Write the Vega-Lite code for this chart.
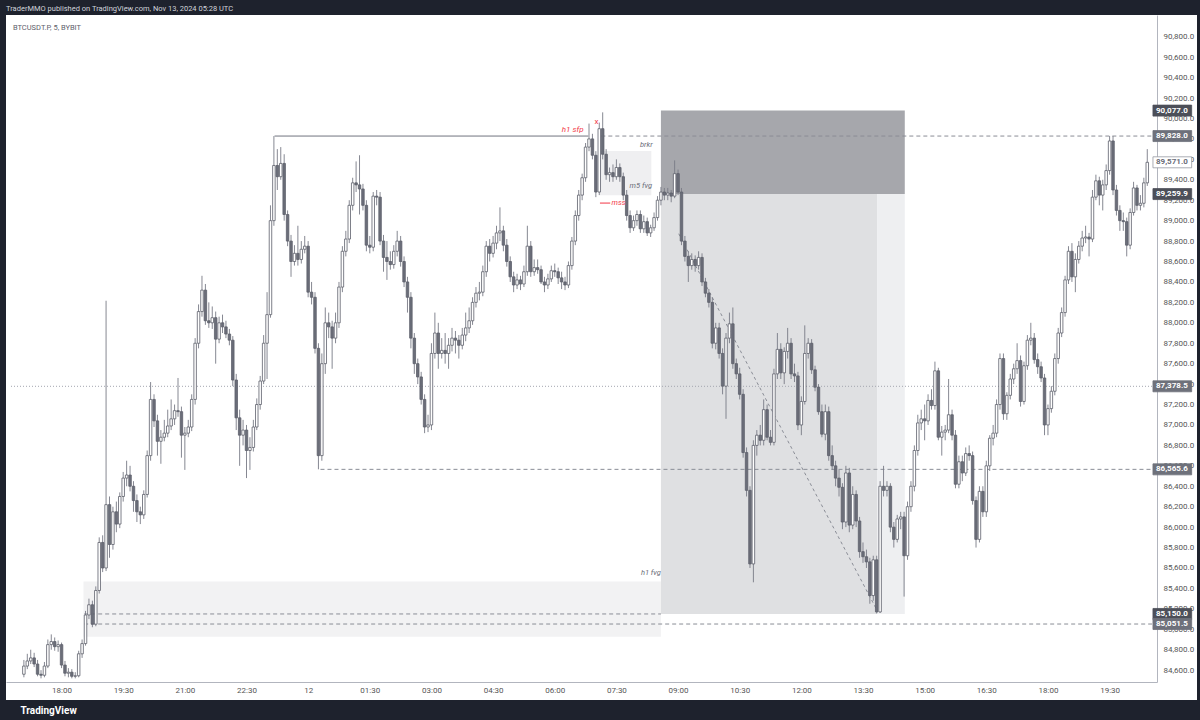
{
"$schema": "https://vega.github.io/schema/vega-lite/v6.json",
"width": 1191,
"height": 685,
"autosize": {"type": "none"},
"padding": {"left": 6, "top": 15, "right": 3, "bottom": 20},
"background": "#1e222d",
"config": {"view": {"fill": "#ffffff", "stroke": null}, "font": "Roboto", "axisY": {"labelOverlap": false}, "axisX": {"labelOverlap": false}},
"title": {"text": "TraderMMO published on TradingView.com, Nov 13, 2024 05:28 UTC", "anchor": "start", "frame": "group", "fontSize": 7.5, "fontWeight": "normal", "color": "#d1d4dc", "offset": 3},
"resolve": {"scale": {"color": "independent", "fill": "independent", "stroke": "independent", "strokeDash": "independent"}},
"datasets": {
"zones": [
{"t1": "2024-11-11T18:32Z", "t2": "2024-11-12T08:35Z", "p1": 84928, "p2": 85468, "zone": "h1fvg"},
{"t1": "2024-11-12T07:06Z", "t2": "2024-11-12T08:21Z", "p1": 89248, "p2": 89681, "zone": "m5fvg"},
{"t1": "2024-11-12T08:35Z", "t2": "2024-11-12T14:31Z", "p1": 89259.9, "p2": 90077, "zone": "stop"},
{"t1": "2024-11-12T08:35Z", "t2": "2024-11-12T13:51Z", "p1": 85150, "p2": 89259.9, "zone": "target"},
{"t1": "2024-11-12T13:51Z", "t2": "2024-11-12T14:31Z", "p1": 85150, "p2": 89259.9, "zone": "target_rest"}
],
"levels": [
{"t1": "2024-11-11T23:11Z", "t2": "2024-11-12T06:49Z", "p": 89828, "style": "solid"},
{"t1": "2024-11-12T07:08Z", "t2": "2024-11-12T20:31:54Z", "p": 89828, "style": "dashed"},
{"t1": "2024-11-11T16:46:12Z", "t2": "2024-11-12T20:31:54Z", "p": 87378.5, "style": "dotted"},
{"t1": "2024-11-12T00:18Z", "t2": "2024-11-12T20:31:54Z", "p": 86565.6, "style": "dashed"},
{"t1": "2024-11-11T18:33Z", "t2": "2024-11-12T08:35Z", "p": 85150, "style": "dashed"},
{"t1": "2024-11-11T18:33Z", "t2": "2024-11-12T20:31:54Z", "p": 85051.5, "style": "dashed"}
],
"diag": [
{"t": "2024-11-12T09:01Z", "p": 88872},
{"t": "2024-11-12T13:51Z", "p": 85179}
],
"tags": [
{"p": 90077.0, "kind": "position"},
{"p": 89828.0, "kind": "level"},
{"p": 89571.0, "kind": "last"},
{"p": 89259.9, "kind": "position"},
{"p": 87378.5, "kind": "level"},
{"p": 86565.6, "kind": "level"},
{"p": 85150.0, "kind": "position"},
{"p": 85051.5, "kind": "level"}
],
"candles": [
{"t":"2024-11-11T17:05Z","o":84560,"h":84700,"l":84530,"c":84640},
{"t":"2024-11-11T17:10Z","o":84640,"h":84760,"l":84610,"c":84690},
{"t":"2024-11-11T17:15Z","o":84690,"h":84800,"l":84660,"c":84720},
{"t":"2024-11-11T17:20Z","o":84720,"h":84770,"l":84630,"c":84660},
{"t":"2024-11-11T17:25Z","o":84660,"h":84700,"l":84540,"c":84560},
{"t":"2024-11-11T17:30Z","o":84560,"h":84600,"l":84520,"c":84550},
{"t":"2024-11-11T17:35Z","o":84550,"h":84680,"l":84530,"c":84640},
{"t":"2024-11-11T17:40Z","o":84640,"h":84900,"l":84620,"c":84850},
{"t":"2024-11-11T17:45Z","o":84850,"h":84950,"l":84800,"c":84880},
{"t":"2024-11-11T17:50Z","o":84880,"h":84920,"l":84790,"c":84830},
{"t":"2024-11-11T17:55Z","o":84830,"h":84890,"l":84780,"c":84850},
{"t":"2024-11-11T18:00Z","o":84850,"h":84870,"l":84620,"c":84650},
{"t":"2024-11-11T18:05Z","o":84650,"h":84690,"l":84540,"c":84570},
{"t":"2024-11-11T18:10Z","o":84570,"h":84620,"l":84530,"c":84580},
{"t":"2024-11-11T18:15Z","o":84580,"h":84610,"l":84520,"c":84540},
{"t":"2024-11-11T18:20Z","o":84540,"h":84580,"l":84520,"c":84545},
{"t":"2024-11-11T18:25Z","o":84545,"h":84790,"l":84530,"c":84760},
{"t":"2024-11-11T18:30Z","o":84760,"h":84900,"l":84720,"c":84860},
{"t":"2024-11-11T18:35Z","o":84860,"h":85180,"l":84840,"c":85140},
{"t":"2024-11-11T18:40Z","o":85140,"h":85300,"l":85100,"c":85240},
{"t":"2024-11-11T18:45Z","o":85240,"h":85280,"l":85020,"c":85050},
{"t":"2024-11-11T18:50Z","o":85050,"h":85420,"l":85030,"c":85380},
{"t":"2024-11-11T18:55Z","o":85380,"h":85900,"l":85350,"c":85850},
{"t":"2024-11-11T19:00Z","o":85850,"h":85920,"l":85560,"c":85600},
{"t":"2024-11-11T19:05Z","o":85600,"h":88216,"l":85570,"c":86220},
{"t":"2024-11-11T19:10Z","o":86220,"h":86300,"l":85700,"c":85830},
{"t":"2024-11-11T19:15Z","o":85830,"h":86200,"l":85780,"c":86150},
{"t":"2024-11-11T19:20Z","o":86150,"h":86250,"l":85950,"c":86030},
{"t":"2024-11-11T19:25Z","o":86030,"h":86340,"l":85990,"c":86300},
{"t":"2024-11-11T19:30Z","o":86300,"h":86540,"l":86250,"c":86480},
{"t":"2024-11-11T19:35Z","o":86480,"h":86650,"l":86400,"c":86510},
{"t":"2024-11-11T19:40Z","o":86510,"h":86600,"l":86350,"c":86400},
{"t":"2024-11-11T19:45Z","o":86400,"h":86450,"l":86150,"c":86260},
{"t":"2024-11-11T19:50Z","o":86260,"h":86320,"l":86050,"c":86150},
{"t":"2024-11-11T19:55Z","o":86150,"h":86200,"l":86030,"c":86120},
{"t":"2024-11-11T20:00Z","o":86120,"h":86360,"l":86080,"c":86320},
{"t":"2024-11-11T20:05Z","o":86320,"h":86750,"l":86290,"c":86700},
{"t":"2024-11-11T20:10Z","o":86700,"h":87420,"l":86650,"c":87250},
{"t":"2024-11-11T20:15Z","o":87250,"h":87300,"l":86980,"c":87040},
{"t":"2024-11-11T20:20Z","o":87040,"h":87100,"l":86700,"c":86840},
{"t":"2024-11-11T20:25Z","o":86840,"h":86950,"l":86620,"c":86880},
{"t":"2024-11-11T20:30Z","o":86880,"h":87050,"l":86840,"c":86920},
{"t":"2024-11-11T20:35Z","o":86920,"h":87150,"l":86880,"c":86990},
{"t":"2024-11-11T20:40Z","o":86990,"h":87250,"l":86950,"c":87060},
{"t":"2024-11-11T20:45Z","o":87060,"h":87200,"l":87000,"c":87140},
{"t":"2024-11-11T20:50Z","o":87140,"h":87460,"l":87080,"c":87130},
{"t":"2024-11-11T20:55Z","o":87130,"h":87180,"l":86680,"c":86900},
{"t":"2024-11-11T21:00Z","o":86900,"h":86980,"l":86560,"c":86920},
{"t":"2024-11-11T21:05Z","o":86920,"h":87050,"l":86880,"c":86980},
{"t":"2024-11-11T21:10Z","o":86980,"h":87300,"l":86940,"c":87250},
{"t":"2024-11-11T21:15Z","o":87250,"h":87850,"l":87200,"c":87800},
{"t":"2024-11-11T21:20Z","o":87800,"h":88180,"l":87750,"c":88110},
{"t":"2024-11-11T21:25Z","o":88110,"h":88460,"l":88060,"c":88320},
{"t":"2024-11-11T21:30Z","o":88320,"h":88380,"l":87980,"c":88020},
{"t":"2024-11-11T21:35Z","o":88020,"h":88200,"l":87950,"c":88000},
{"t":"2024-11-11T21:40Z","o":88000,"h":88160,"l":87940,"c":88050},
{"t":"2024-11-11T21:45Z","o":88050,"h":88110,"l":87600,"c":87840},
{"t":"2024-11-11T21:50Z","o":87840,"h":88060,"l":87800,"c":88000},
{"t":"2024-11-11T21:55Z","o":88000,"h":88080,"l":87900,"c":87960},
{"t":"2024-11-11T22:00Z","o":87960,"h":88020,"l":87850,"c":87890},
{"t":"2024-11-11T22:05Z","o":87890,"h":87940,"l":87780,"c":87830},
{"t":"2024-11-11T22:10Z","o":87830,"h":87870,"l":87380,"c":87440},
{"t":"2024-11-11T22:15Z","o":87440,"h":87500,"l":86950,"c":87070},
{"t":"2024-11-11T22:20Z","o":87070,"h":87150,"l":86600,"c":86900},
{"t":"2024-11-11T22:25Z","o":86900,"h":87050,"l":86800,"c":86950},
{"t":"2024-11-11T22:30Z","o":86950,"h":87000,"l":86480,"c":86750},
{"t":"2024-11-11T22:35Z","o":86750,"h":86880,"l":86560,"c":86780},
{"t":"2024-11-11T22:40Z","o":86780,"h":87050,"l":86740,"c":86980},
{"t":"2024-11-11T22:45Z","o":86980,"h":87260,"l":86950,"c":87200},
{"t":"2024-11-11T22:50Z","o":87200,"h":87480,"l":87150,"c":87430},
{"t":"2024-11-11T22:55Z","o":87430,"h":87880,"l":87400,"c":87800},
{"t":"2024-11-11T23:00Z","o":87800,"h":88300,"l":87450,"c":88080},
{"t":"2024-11-11T23:05Z","o":88080,"h":89150,"l":88050,"c":89000},
{"t":"2024-11-11T23:10Z","o":89000,"h":89828,"l":88950,"c":89540},
{"t":"2024-11-11T23:15Z","o":89540,"h":89700,"l":89300,"c":89430},
{"t":"2024-11-11T23:20Z","o":89430,"h":89720,"l":89400,"c":89560},
{"t":"2024-11-11T23:25Z","o":89560,"h":89650,"l":89000,"c":89060},
{"t":"2024-11-11T23:30Z","o":89060,"h":89100,"l":88750,"c":88800},
{"t":"2024-11-11T23:35Z","o":88800,"h":88860,"l":88450,"c":88600},
{"t":"2024-11-11T23:40Z","o":88600,"h":88760,"l":88560,"c":88680},
{"t":"2024-11-11T23:45Z","o":88680,"h":88950,"l":88560,"c":88620},
{"t":"2024-11-11T23:50Z","o":88620,"h":88800,"l":88580,"c":88720},
{"t":"2024-11-11T23:55Z","o":88720,"h":88850,"l":88680,"c":88750},
{"t":"2024-11-12T00:00Z","o":88750,"h":88800,"l":88250,"c":88300},
{"t":"2024-11-12T00:05Z","o":88300,"h":88400,"l":88180,"c":88250},
{"t":"2024-11-12T00:10Z","o":88250,"h":88300,"l":87700,"c":87750},
{"t":"2024-11-12T00:15Z","o":87750,"h":87800,"l":86566,"c":86700},
{"t":"2024-11-12T00:20Z","o":86700,"h":87700,"l":86650,"c":87600},
{"t":"2024-11-12T00:25Z","o":87600,"h":88150,"l":87500,"c":88000},
{"t":"2024-11-12T00:30Z","o":88000,"h":88100,"l":87850,"c":87960},
{"t":"2024-11-12T00:35Z","o":87960,"h":88020,"l":87550,"c":87850},
{"t":"2024-11-12T00:40Z","o":87850,"h":88100,"l":87800,"c":88000},
{"t":"2024-11-12T00:45Z","o":88000,"h":88400,"l":87950,"c":88350},
{"t":"2024-11-12T00:50Z","o":88350,"h":88750,"l":88300,"c":88700},
{"t":"2024-11-12T00:55Z","o":88700,"h":88900,"l":88650,"c":88820},
{"t":"2024-11-12T01:00Z","o":88820,"h":89200,"l":88780,"c":89150},
{"t":"2024-11-12T01:05Z","o":89150,"h":89420,"l":89100,"c":89370},
{"t":"2024-11-12T01:10Z","o":89370,"h":89580,"l":89280,"c":89350},
{"t":"2024-11-12T01:15Z","o":89350,"h":89640,"l":89060,"c":89310},
{"t":"2024-11-12T01:20Z","o":89310,"h":89360,"l":89100,"c":89150},
{"t":"2024-11-12T01:25Z","o":89150,"h":89200,"l":88700,"c":88760},
{"t":"2024-11-12T01:30Z","o":88760,"h":88850,"l":88680,"c":88740},
{"t":"2024-11-12T01:35Z","o":88740,"h":89280,"l":88700,"c":89240},
{"t":"2024-11-12T01:40Z","o":89240,"h":89300,"l":89150,"c":89230},
{"t":"2024-11-12T01:45Z","o":89230,"h":89280,"l":88760,"c":88800},
{"t":"2024-11-12T01:50Z","o":88800,"h":88860,"l":88500,"c":88640},
{"t":"2024-11-12T01:55Z","o":88640,"h":88800,"l":88420,"c":88600},
{"t":"2024-11-12T02:00Z","o":88600,"h":88700,"l":88520,"c":88570},
{"t":"2024-11-12T02:05Z","o":88570,"h":88760,"l":88530,"c":88700},
{"t":"2024-11-12T02:10Z","o":88700,"h":88900,"l":88650,"c":88800},
{"t":"2024-11-12T02:15Z","o":88800,"h":88850,"l":88550,"c":88600},
{"t":"2024-11-12T02:20Z","o":88600,"h":88650,"l":88350,"c":88400},
{"t":"2024-11-12T02:25Z","o":88400,"h":88450,"l":88100,"c":88250},
{"t":"2024-11-12T02:30Z","o":88250,"h":88300,"l":87750,"c":87850},
{"t":"2024-11-12T02:35Z","o":87850,"h":87900,"l":87500,"c":87600},
{"t":"2024-11-12T02:40Z","o":87600,"h":87650,"l":87400,"c":87470},
{"t":"2024-11-12T02:45Z","o":87470,"h":87520,"l":87200,"c":87250},
{"t":"2024-11-12T02:50Z","o":87250,"h":87300,"l":86920,"c":86980},
{"t":"2024-11-12T02:55Z","o":86980,"h":87100,"l":86930,"c":87000},
{"t":"2024-11-12T03:00Z","o":87000,"h":87800,"l":86950,"c":87700},
{"t":"2024-11-12T03:05Z","o":87700,"h":88100,"l":87650,"c":87900},
{"t":"2024-11-12T03:10Z","o":87900,"h":88000,"l":87550,"c":87700},
{"t":"2024-11-12T03:15Z","o":87700,"h":87850,"l":87650,"c":87730},
{"t":"2024-11-12T03:20Z","o":87730,"h":87900,"l":87600,"c":87700},
{"t":"2024-11-12T03:25Z","o":87700,"h":87850,"l":87550,"c":87780},
{"t":"2024-11-12T03:30Z","o":87780,"h":87950,"l":87720,"c":87850},
{"t":"2024-11-12T03:35Z","o":87850,"h":87920,"l":87700,"c":87830},
{"t":"2024-11-12T03:40Z","o":87830,"h":87880,"l":87650,"c":87780},
{"t":"2024-11-12T03:45Z","o":87780,"h":87950,"l":87740,"c":87880},
{"t":"2024-11-12T03:50Z","o":87880,"h":88100,"l":87820,"c":87950},
{"t":"2024-11-12T03:55Z","o":87950,"h":88150,"l":87900,"c":88020},
{"t":"2024-11-12T04:00Z","o":88020,"h":88250,"l":87980,"c":88200},
{"t":"2024-11-12T04:05Z","o":88200,"h":88350,"l":88150,"c":88290},
{"t":"2024-11-12T04:10Z","o":88290,"h":88400,"l":88220,"c":88300},
{"t":"2024-11-12T04:15Z","o":88300,"h":88560,"l":88260,"c":88500},
{"t":"2024-11-12T04:20Z","o":88500,"h":88800,"l":88450,"c":88750},
{"t":"2024-11-12T04:25Z","o":88750,"h":88820,"l":88600,"c":88680},
{"t":"2024-11-12T04:30Z","o":88680,"h":88850,"l":88640,"c":88780},
{"t":"2024-11-12T04:35Z","o":88780,"h":88950,"l":88720,"c":88880},
{"t":"2024-11-12T04:40Z","o":88880,"h":89130,"l":88800,"c":88900},
{"t":"2024-11-12T04:45Z","o":88900,"h":88950,"l":88700,"c":88760},
{"t":"2024-11-12T04:50Z","o":88760,"h":88820,"l":88550,"c":88600},
{"t":"2024-11-12T04:55Z","o":88600,"h":88650,"l":88400,"c":88450},
{"t":"2024-11-12T05:00Z","o":88450,"h":88500,"l":88300,"c":88370},
{"t":"2024-11-12T05:05Z","o":88370,"h":88480,"l":88330,"c":88420},
{"t":"2024-11-12T05:10Z","o":88420,"h":88460,"l":88320,"c":88380},
{"t":"2024-11-12T05:15Z","o":88380,"h":88560,"l":88350,"c":88500},
{"t":"2024-11-12T05:20Z","o":88500,"h":88950,"l":88460,"c":88750},
{"t":"2024-11-12T05:25Z","o":88750,"h":88800,"l":88450,"c":88500},
{"t":"2024-11-12T05:30Z","o":88500,"h":88620,"l":88460,"c":88540},
{"t":"2024-11-12T05:35Z","o":88540,"h":88620,"l":88480,"c":88520},
{"t":"2024-11-12T05:40Z","o":88520,"h":88560,"l":88380,"c":88400},
{"t":"2024-11-12T05:45Z","o":88400,"h":88450,"l":88300,"c":88370},
{"t":"2024-11-12T05:50Z","o":88370,"h":88480,"l":88330,"c":88430},
{"t":"2024-11-12T05:55Z","o":88430,"h":88560,"l":88400,"c":88510},
{"t":"2024-11-12T06:00Z","o":88510,"h":88580,"l":88450,"c":88500},
{"t":"2024-11-12T06:05Z","o":88500,"h":88540,"l":88380,"c":88440},
{"t":"2024-11-12T06:10Z","o":88440,"h":88500,"l":88330,"c":88400},
{"t":"2024-11-12T06:15Z","o":88400,"h":88450,"l":88320,"c":88370},
{"t":"2024-11-12T06:20Z","o":88370,"h":88600,"l":88340,"c":88560},
{"t":"2024-11-12T06:25Z","o":88560,"h":88840,"l":88520,"c":88800},
{"t":"2024-11-12T06:30Z","o":88800,"h":89100,"l":88760,"c":89050},
{"t":"2024-11-12T06:35Z","o":89050,"h":89300,"l":89000,"c":89250},
{"t":"2024-11-12T06:40Z","o":89250,"h":89460,"l":89200,"c":89420},
{"t":"2024-11-12T06:45Z","o":89420,"h":89760,"l":89380,"c":89720},
{"t":"2024-11-12T06:50Z","o":89720,"h":89950,"l":89680,"c":89800},
{"t":"2024-11-12T06:55Z","o":89800,"h":89850,"l":89600,"c":89640},
{"t":"2024-11-12T07:00Z","o":89640,"h":89680,"l":89230,"c":89280},
{"t":"2024-11-12T07:05Z","o":89280,"h":89960,"l":89250,"c":89900},
{"t":"2024-11-12T07:10Z","o":89900,"h":90060,"l":89600,"c":89650},
{"t":"2024-11-12T07:15Z","o":89650,"h":89700,"l":89400,"c":89450},
{"t":"2024-11-12T07:20Z","o":89450,"h":89520,"l":89380,"c":89470},
{"t":"2024-11-12T07:25Z","o":89470,"h":89550,"l":89380,"c":89430},
{"t":"2024-11-12T07:30Z","o":89430,"h":89600,"l":89400,"c":89520},
{"t":"2024-11-12T07:35Z","o":89520,"h":89560,"l":89380,"c":89430},
{"t":"2024-11-12T07:40Z","o":89430,"h":89470,"l":89200,"c":89250},
{"t":"2024-11-12T07:45Z","o":89250,"h":89300,"l":89000,"c":89050},
{"t":"2024-11-12T07:50Z","o":89050,"h":89100,"l":88880,"c":88930},
{"t":"2024-11-12T07:55Z","o":88930,"h":89050,"l":88900,"c":89000},
{"t":"2024-11-12T08:00Z","o":89000,"h":89100,"l":88950,"c":89060},
{"t":"2024-11-12T08:05Z","o":89060,"h":89100,"l":88880,"c":88920},
{"t":"2024-11-12T08:10Z","o":88920,"h":89050,"l":88880,"c":88990},
{"t":"2024-11-12T08:15Z","o":88990,"h":89030,"l":88850,"c":88880},
{"t":"2024-11-12T08:20Z","o":88880,"h":88960,"l":88840,"c":88930},
{"t":"2024-11-12T08:25Z","o":88930,"h":89080,"l":88900,"c":89030},
{"t":"2024-11-12T08:30Z","o":89030,"h":89240,"l":89000,"c":89200},
{"t":"2024-11-12T08:35Z","o":89200,"h":89330,"l":89150,"c":89280},
{"t":"2024-11-12T08:40Z","o":89280,"h":89320,"l":89200,"c":89250},
{"t":"2024-11-12T08:45Z","o":89250,"h":89320,"l":89200,"c":89270},
{"t":"2024-11-12T08:50Z","o":89270,"h":89300,"l":89180,"c":89240},
{"t":"2024-11-12T08:55Z","o":89240,"h":89590,"l":89220,"c":89460},
{"t":"2024-11-12T09:00Z","o":89460,"h":89500,"l":89250,"c":89280},
{"t":"2024-11-12T09:05Z","o":89280,"h":89320,"l":88760,"c":88800},
{"t":"2024-11-12T09:10Z","o":88800,"h":88850,"l":88600,"c":88650},
{"t":"2024-11-12T09:15Z","o":88650,"h":88700,"l":88400,"c":88560},
{"t":"2024-11-12T09:20Z","o":88560,"h":88680,"l":88520,"c":88620},
{"t":"2024-11-12T09:25Z","o":88620,"h":88660,"l":88500,"c":88560},
{"t":"2024-11-12T09:30Z","o":88560,"h":88700,"l":88520,"c":88640},
{"t":"2024-11-12T09:35Z","o":88640,"h":88680,"l":88360,"c":88400},
{"t":"2024-11-12T09:40Z","o":88400,"h":88440,"l":88250,"c":88290},
{"t":"2024-11-12T09:45Z","o":88290,"h":88330,"l":88150,"c":88200},
{"t":"2024-11-12T09:50Z","o":88200,"h":88250,"l":87750,"c":87800},
{"t":"2024-11-12T09:55Z","o":87800,"h":88000,"l":87740,"c":87950},
{"t":"2024-11-12T10:00Z","o":87950,"h":88000,"l":87650,"c":87700},
{"t":"2024-11-12T10:05Z","o":87700,"h":87750,"l":87300,"c":87380},
{"t":"2024-11-12T10:10Z","o":87380,"h":87900,"l":87060,"c":87850},
{"t":"2024-11-12T10:15Z","o":87850,"h":88100,"l":87800,"c":87990},
{"t":"2024-11-12T10:20Z","o":87990,"h":88150,"l":87550,"c":87600},
{"t":"2024-11-12T10:25Z","o":87600,"h":87650,"l":87450,"c":87500},
{"t":"2024-11-12T10:30Z","o":87500,"h":87560,"l":87250,"c":87300},
{"t":"2024-11-12T10:35Z","o":87300,"h":87350,"l":86680,"c":86730},
{"t":"2024-11-12T10:40Z","o":86730,"h":86780,"l":86300,"c":86360},
{"t":"2024-11-12T10:45Z","o":86360,"h":86400,"l":85600,"c":85640},
{"t":"2024-11-12T10:50Z","o":85640,"h":86850,"l":85460,"c":86800},
{"t":"2024-11-12T10:55Z","o":86800,"h":86950,"l":86700,"c":86900},
{"t":"2024-11-12T11:00Z","o":86900,"h":87000,"l":86800,"c":86850},
{"t":"2024-11-12T11:05Z","o":86850,"h":87250,"l":86800,"c":87150},
{"t":"2024-11-12T11:10Z","o":87150,"h":87200,"l":86850,"c":86880},
{"t":"2024-11-12T11:15Z","o":86880,"h":86950,"l":86800,"c":86830},
{"t":"2024-11-12T11:20Z","o":86830,"h":87550,"l":86800,"c":87500},
{"t":"2024-11-12T11:25Z","o":87500,"h":87900,"l":87450,"c":87740},
{"t":"2024-11-12T11:30Z","o":87740,"h":87800,"l":87450,"c":87510},
{"t":"2024-11-12T11:35Z","o":87510,"h":87760,"l":87400,"c":87720},
{"t":"2024-11-12T11:40Z","o":87720,"h":87950,"l":87650,"c":87800},
{"t":"2024-11-12T11:45Z","o":87800,"h":87850,"l":87450,"c":87500},
{"t":"2024-11-12T11:50Z","o":87500,"h":87600,"l":87420,"c":87480},
{"t":"2024-11-12T11:55Z","o":87480,"h":87520,"l":86950,"c":87000},
{"t":"2024-11-12T12:00Z","o":87000,"h":87280,"l":86900,"c":87230},
{"t":"2024-11-12T12:05Z","o":87230,"h":87975,"l":87200,"c":87700},
{"t":"2024-11-12T12:10Z","o":87700,"h":87850,"l":87650,"c":87800},
{"t":"2024-11-12T12:15Z","o":87800,"h":87840,"l":87500,"c":87540},
{"t":"2024-11-12T12:20Z","o":87540,"h":87580,"l":87330,"c":87370},
{"t":"2024-11-12T12:25Z","o":87370,"h":87400,"l":87100,"c":87130},
{"t":"2024-11-12T12:30Z","o":87130,"h":87200,"l":86880,"c":86910},
{"t":"2024-11-12T12:35Z","o":86910,"h":87200,"l":86850,"c":87130},
{"t":"2024-11-12T12:40Z","o":87130,"h":87180,"l":86650,"c":86700},
{"t":"2024-11-12T12:45Z","o":86700,"h":86800,"l":86560,"c":86600},
{"t":"2024-11-12T12:50Z","o":86600,"h":86650,"l":86400,"c":86480},
{"t":"2024-11-12T12:55Z","o":86480,"h":86560,"l":86300,"c":86390},
{"t":"2024-11-12T13:00Z","o":86390,"h":86430,"l":85980,"c":86050},
{"t":"2024-11-12T13:05Z","o":86050,"h":86600,"l":86000,"c":86530},
{"t":"2024-11-12T13:10Z","o":86530,"h":86580,"l":85950,"c":86020},
{"t":"2024-11-12T13:15Z","o":86020,"h":86400,"l":85980,"c":86320},
{"t":"2024-11-12T13:20Z","o":86320,"h":86360,"l":86000,"c":86060},
{"t":"2024-11-12T13:25Z","o":86060,"h":86100,"l":85700,"c":85760},
{"t":"2024-11-12T13:30Z","o":85760,"h":85850,"l":85650,"c":85710},
{"t":"2024-11-12T13:35Z","o":85710,"h":85780,"l":85600,"c":85660},
{"t":"2024-11-12T13:40Z","o":85660,"h":85700,"l":85250,"c":85330},
{"t":"2024-11-12T13:45Z","o":85330,"h":85720,"l":85280,"c":85680},
{"t":"2024-11-12T13:50Z","o":85680,"h":85720,"l":85155,"c":85170},
{"t":"2024-11-12T13:55Z","o":85170,"h":86450,"l":85160,"c":86400},
{"t":"2024-11-12T14:00Z","o":86400,"h":86600,"l":86300,"c":86360},
{"t":"2024-11-12T14:05Z","o":86360,"h":86450,"l":86300,"c":86400},
{"t":"2024-11-12T14:10Z","o":86400,"h":86430,"l":85950,"c":86000},
{"t":"2024-11-12T14:15Z","o":86000,"h":86050,"l":85800,"c":85880},
{"t":"2024-11-12T14:20Z","o":85880,"h":86120,"l":85850,"c":86080},
{"t":"2024-11-12T14:25Z","o":86080,"h":86150,"l":85980,"c":86100},
{"t":"2024-11-12T14:30Z","o":86100,"h":86150,"l":85320,"c":85720},
{"t":"2024-11-12T14:35Z","o":85720,"h":86250,"l":85680,"c":86200},
{"t":"2024-11-12T14:40Z","o":86200,"h":86450,"l":86150,"c":86400},
{"t":"2024-11-12T14:45Z","o":86400,"h":86800,"l":86350,"c":86750},
{"t":"2024-11-12T14:50Z","o":86750,"h":87100,"l":86700,"c":87020},
{"t":"2024-11-12T14:55Z","o":87020,"h":87150,"l":86950,"c":87060},
{"t":"2024-11-12T15:00Z","o":87060,"h":87200,"l":86850,"c":87040},
{"t":"2024-11-12T15:05Z","o":87040,"h":87300,"l":87000,"c":87240},
{"t":"2024-11-12T15:10Z","o":87240,"h":87350,"l":87150,"c":87190},
{"t":"2024-11-12T15:15Z","o":87190,"h":87620,"l":87150,"c":87530},
{"t":"2024-11-12T15:20Z","o":87530,"h":87560,"l":86850,"c":86880},
{"t":"2024-11-12T15:25Z","o":86880,"h":86990,"l":86700,"c":86930},
{"t":"2024-11-12T15:30Z","o":86930,"h":87000,"l":86850,"c":86950},
{"t":"2024-11-12T15:35Z","o":86950,"h":87450,"l":86920,"c":87100},
{"t":"2024-11-12T15:40Z","o":87100,"h":87150,"l":86850,"c":86900},
{"t":"2024-11-12T15:45Z","o":86900,"h":86950,"l":86380,"c":86420},
{"t":"2024-11-12T15:50Z","o":86420,"h":86700,"l":86380,"c":86640},
{"t":"2024-11-12T15:55Z","o":86640,"h":86700,"l":86450,"c":86530},
{"t":"2024-11-12T16:00Z","o":86530,"h":86780,"l":86500,"c":86720},
{"t":"2024-11-12T16:05Z","o":86720,"h":86800,"l":86650,"c":86700},
{"t":"2024-11-12T16:10Z","o":86700,"h":86740,"l":86220,"c":86260},
{"t":"2024-11-12T16:15Z","o":86260,"h":86300,"l":85800,"c":85880},
{"t":"2024-11-12T16:20Z","o":85880,"h":86400,"l":85850,"c":86350},
{"t":"2024-11-12T16:25Z","o":86350,"h":86400,"l":86100,"c":86150},
{"t":"2024-11-12T16:30Z","o":86150,"h":86650,"l":86100,"c":86600},
{"t":"2024-11-12T16:35Z","o":86600,"h":86900,"l":86550,"c":86870},
{"t":"2024-11-12T16:40Z","o":86870,"h":87000,"l":86800,"c":86920},
{"t":"2024-11-12T16:45Z","o":86920,"h":87250,"l":86880,"c":87200},
{"t":"2024-11-12T16:50Z","o":87200,"h":87700,"l":87150,"c":87650},
{"t":"2024-11-12T16:55Z","o":87650,"h":87700,"l":87050,"c":87110},
{"t":"2024-11-12T17:00Z","o":87110,"h":87320,"l":87050,"c":87290},
{"t":"2024-11-12T17:05Z","o":87290,"h":87500,"l":87250,"c":87450},
{"t":"2024-11-12T17:10Z","o":87450,"h":87600,"l":87400,"c":87550},
{"t":"2024-11-12T17:15Z","o":87550,"h":87800,"l":87500,"c":87630},
{"t":"2024-11-12T17:20Z","o":87630,"h":87680,"l":87180,"c":87230},
{"t":"2024-11-12T17:25Z","o":87230,"h":87620,"l":87200,"c":87580},
{"t":"2024-11-12T17:30Z","o":87580,"h":87880,"l":87540,"c":87830},
{"t":"2024-11-12T17:35Z","o":87830,"h":88000,"l":87780,"c":87850},
{"t":"2024-11-12T17:40Z","o":87850,"h":87900,"l":87600,"c":87640},
{"t":"2024-11-12T17:45Z","o":87640,"h":87700,"l":87500,"c":87570},
{"t":"2024-11-12T17:50Z","o":87570,"h":87620,"l":87420,"c":87460},
{"t":"2024-11-12T17:55Z","o":87460,"h":87500,"l":86900,"c":87000},
{"t":"2024-11-12T18:00Z","o":87000,"h":87200,"l":86900,"c":87160},
{"t":"2024-11-12T18:05Z","o":87160,"h":87380,"l":87120,"c":87330},
{"t":"2024-11-12T18:10Z","o":87330,"h":87700,"l":87290,"c":87650},
{"t":"2024-11-12T18:15Z","o":87650,"h":87950,"l":87600,"c":87900},
{"t":"2024-11-12T18:20Z","o":87900,"h":88150,"l":87860,"c":88100},
{"t":"2024-11-12T18:25Z","o":88100,"h":88460,"l":88060,"c":88420},
{"t":"2024-11-12T18:30Z","o":88420,"h":88750,"l":88380,"c":88700},
{"t":"2024-11-12T18:35Z","o":88700,"h":88780,"l":88400,"c":88450},
{"t":"2024-11-12T18:40Z","o":88450,"h":88680,"l":88300,"c":88620},
{"t":"2024-11-12T18:45Z","o":88620,"h":88800,"l":88580,"c":88750},
{"t":"2024-11-12T18:50Z","o":88750,"h":88900,"l":88700,"c":88830},
{"t":"2024-11-12T18:55Z","o":88830,"h":88950,"l":88780,"c":88840},
{"t":"2024-11-12T19:00Z","o":88840,"h":88880,"l":88650,"c":88820},
{"t":"2024-11-12T19:05Z","o":88820,"h":89300,"l":88790,"c":89230},
{"t":"2024-11-12T19:10Z","o":89230,"h":89450,"l":89200,"c":89390},
{"t":"2024-11-12T19:15Z","o":89390,"h":89430,"l":89150,"c":89250},
{"t":"2024-11-12T19:20Z","o":89250,"h":89400,"l":89100,"c":89350},
{"t":"2024-11-12T19:25Z","o":89350,"h":89550,"l":89300,"c":89490},
{"t":"2024-11-12T19:30Z","o":89490,"h":89828,"l":89450,"c":89780},
{"t":"2024-11-12T19:35Z","o":89780,"h":89828,"l":89250,"c":89300},
{"t":"2024-11-12T19:40Z","o":89300,"h":89350,"l":89050,"c":89100},
{"t":"2024-11-12T19:45Z","o":89100,"h":89150,"l":88900,"c":89000},
{"t":"2024-11-12T19:50Z","o":89000,"h":89080,"l":88900,"c":88990},
{"t":"2024-11-12T19:55Z","o":88990,"h":89030,"l":88650,"c":88760},
{"t":"2024-11-12T20:00Z","o":88760,"h":89120,"l":88720,"c":89080},
{"t":"2024-11-12T20:05Z","o":89080,"h":89380,"l":89050,"c":89320},
{"t":"2024-11-12T20:10Z","o":89320,"h":89350,"l":89100,"c":89150},
{"t":"2024-11-12T20:15Z","o":89150,"h":89250,"l":89100,"c":89170},
{"t":"2024-11-12T20:20Z","o":89170,"h":89420,"l":89130,"c":89370},
{"t":"2024-11-12T20:25Z","o":89370,"h":89700,"l":89340,"c":89571}
]
},
"layer": [
{
"data": {"name": "zones"},
"mark": {"type": "rect"},
"encoding": {
"x": {"field": "t1", "type": "temporal",
 "scale": {"type": "utc", "domain": [1731343572000, 1731443514000], "range": [0, 1151], "nice": false},
 "axis": {"orient": "bottom", "offset": -18, "tickCount": 60, "values": [1731348000000,1731353400000,1731358800000,1731364200000,1731369600000,1731375000000,1731380400000,1731385800000,1731391200000,1731396600000,1731402000000,1731407400000,1731412800000,1731418200000,1731423600000,1731429000000,1731434400000,1731439800000],
  "labelExpr": "utchours(datum.value) == 0 && utcminutes(datum.value) == 0 ? utcFormat(datum.value, '%d') : utcFormat(datum.value, '%H:%M')",
  "ticks": false, "grid": false, "domain": true, "domainColor": "#b2b5be", "labelPadding": 4, "labelFontSize": 8, "labelColor": "#555555", "labelOverlap": false, "labelFlush": false,
  "title": "TradingView", "titleX": 14, "titleY": 28, "titleAlign": "left", "titleAnchor": "start", "titleBaseline": "middle", "titleColor": "#ffffff", "titleFontSize": 10, "titleFontWeight": "bold"}},
"x2": {"field": "t2"},
"y": {"field": "p1", "type": "quantitative",
 "scale": {"domain": [84533, 90964], "range": [667, 0], "nice": false, "zero": false},
 "axis": {"orient": "right", "offset": -40, "tickCount": 100, "values": [84600,84800,85000,85200,85400,85600,85800,86000,86200,86400,86600,86800,87000,87200,87400,87600,87800,88000,88200,88400,88600,88800,89000,89200,89400,89600,89800,90000,90200,90400,90600,90800],
  "format": ",.1f", "ticks": false, "grid": false, "domain": true, "domainColor": "#b2b5be", "labelPadding": 6, "labelFontSize": 8, "labelColor": "#555555", "labelOverlap": false, "labelFlush": false, "labelBound": false, "title": null}},
"y2": {"field": "p2"},
"color": {"field": "zone", "type": "nominal", "legend": null,
 "scale": {"domain": ["h1fvg", "m5fvg", "stop", "target", "target_rest"], "range": ["#f2f2f3", "#efeff1", "#a6a7ac", "#dfe0e2", "#eeeff1"]}}
}
},
{
"data": {"name": "levels"},
"mark": {"type": "rule", "strokeWidth": 1},
"encoding": {
"x": {"field": "t1", "type": "temporal"},
"x2": {"field": "t2"},
"y": {"field": "p", "type": "quantitative"},
"color": {"field": "style", "type": "nominal", "legend": null, "scale": {"domain": ["solid", "dashed", "dotted"], "range": ["#5d606b", "#8a8d96", "#a3a6af"]}},
"strokeDash": {"field": "style", "type": "nominal", "legend": null, "scale": {"domain": ["solid", "dashed", "dotted"], "range": [[1, 0], [4, 3], [1, 2]]}}
}
},
{
"data": {"name": "diag"},
"mark": {"type": "line", "color": "#8a8d96", "strokeWidth": 1, "strokeDash": [3, 3]},
"encoding": {
"x": {"field": "t", "type": "temporal"},
"y": {"field": "p", "type": "quantitative"}
}
},
{
"data": {"values": [{"t1": "2024-11-12T07:06Z", "t2": "2024-11-12T07:21Z", "p": 89172}]},
"mark": {"type": "rule", "color": "#f23645", "strokeWidth": 1},
"encoding": {
"x": {"field": "t1", "type": "temporal"},
"x2": {"field": "t2"},
"y": {"field": "p", "type": "quantitative"}
}
},
{
"data": {"name": "candles"},
"mark": {"type": "rule", "color": "#787b86", "strokeWidth": 0.9},
"encoding": {
"x": {"field": "t", "type": "temporal"},
"y": {"field": "l", "type": "quantitative"},
"y2": {"field": "h"}
}
},
{
"data": {"name": "candles"},
"mark": {"type": "bar", "width": 2.5, "stroke": "#5d606b", "strokeWidth": 0.8},
"encoding": {
"x": {"field": "t", "type": "temporal"},
"y": {"field": "o", "type": "quantitative"},
"y2": {"field": "c"},
"fill": {"condition": {"test": "datum.c >= datum.o", "value": "#ffffff"}, "value": "#6b6e79"}
}
},
{
"data": {"values": [{"t": "2024-11-12T06:42Z", "p": 89845, "label": "h1 sfp"}]},
"mark": {"type": "text", "color": "#f23645", "fontSize": 8, "fontStyle": "italic", "align": "right", "baseline": "bottom"},
"encoding": {
"x": {"field": "t", "type": "temporal"},
"y": {"field": "p", "type": "quantitative"},
"text": {"field": "label"}
}
},
{
"data": {"values": [{"t": "2024-11-12T07:23Z", "p": 89172, "label": "mss"}]},
"mark": {"type": "text", "color": "#f23645", "fontSize": 7.5, "fontStyle": "italic", "align": "left", "baseline": "middle"},
"encoding": {
"x": {"field": "t", "type": "temporal"},
"y": {"field": "p", "type": "quantitative"},
"text": {"field": "label"}
}
},
{
"data": {"values": [{"t": "2024-11-12T07:01Z", "p": 89965, "label": "x"}]},
"mark": {"type": "text", "color": "#f23645", "fontSize": 8, "align": "center", "baseline": "middle"},
"encoding": {
"x": {"field": "t", "type": "temporal"},
"y": {"field": "p", "type": "quantitative"},
"text": {"field": "label"}
}
},
{
"data": {"values": [
{"t": "2024-11-12T08:23Z", "p": 89700, "label": "brkr"},
{"t": "2024-11-12T08:22Z", "p": 89300, "label": "m5 fvg"},
{"t": "2024-11-12T08:35Z", "p": 85510, "label": "h1 fvg"}
]},
"mark": {"type": "text", "color": "#6a6d78", "fontSize": 7.5, "fontStyle": "italic", "align": "right", "baseline": "bottom"},
"encoding": {
"x": {"field": "t", "type": "temporal"},
"y": {"field": "p", "type": "quantitative"},
"text": {"field": "label"}
}
},
{
"data": {"values": [{"label": "BTCUSDT.P, 5, BYBIT"}]},
"mark": {"type": "text", "color": "#5d606b", "fontSize": 7.5, "align": "left", "baseline": "middle"},
"encoding": {
"x": {"datum": {"year": 2024, "month": 11, "date": 11, "hours": 16, "minutes": 49, "utc": true}, "type": "temporal"},
"y": {"datum": 90887, "type": "quantitative"},
"text": {"field": "label"}
}
},
{
"data": {"name": "tags"},
"mark": {"type": "bar", "height": 11, "strokeWidth": 0.8, "orient": "horizontal"},
"encoding": {
"x": {"datum": {"year": 2024, "month": 11, "date": 12, "hours": 20, "minutes": 33, "seconds": 18, "utc": true}, "type": "temporal"},
"x2": {"datum": {"year": 2024, "month": 11, "date": 12, "hours": 21, "minutes": 29, "seconds": 48, "utc": true}},
"y": {"field": "p", "type": "quantitative"},
"fill": {"field": "kind", "type": "nominal", "legend": null, "scale": {"domain": ["position", "level", "last"], "range": ["#4c4f59", "#6e717b", "#ffffff"]}},
"stroke": {"field": "kind", "type": "nominal", "legend": null, "scale": {"domain": ["position", "level", "last"], "range": ["#4c4f59", "#6e717b", "#9598a1"]}}
}
},
{
"data": {"name": "tags"},
"mark": {"type": "text", "fontSize": 8, "fontWeight": "bold", "align": "left", "baseline": "middle"},
"encoding": {
"x": {"datum": {"year": 2024, "month": 11, "date": 12, "hours": 20, "minutes": 37, "seconds": 42, "utc": true}, "type": "temporal"},
"y": {"field": "p", "type": "quantitative"},
"text": {"field": "p", "type": "quantitative", "format": ",.1f"},
"color": {"field": "kind", "type": "nominal", "legend": null, "scale": {"domain": ["position", "level", "last"], "range": ["#ffffff", "#ffffff", "#6a6d78"]}}
}
}
]
}
